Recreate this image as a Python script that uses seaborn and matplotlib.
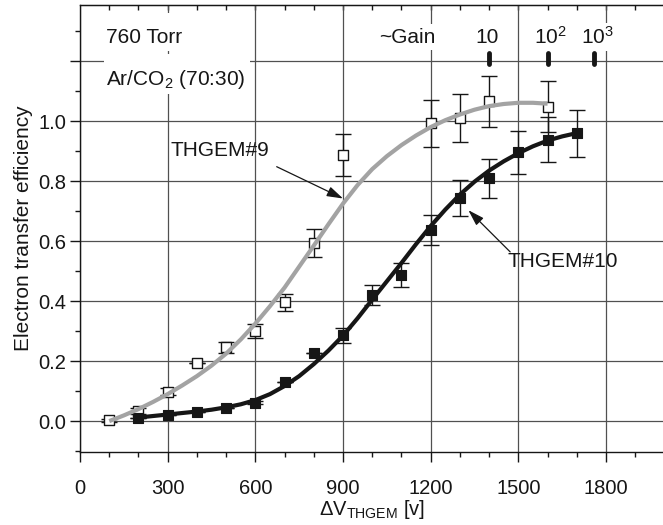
import matplotlib
matplotlib.use("Agg")
import matplotlib.pyplot as plt
from matplotlib.patches import Rectangle
import pandas as pd
import seaborn as sns

# Measured transfer efficiency, THGEM#9 (open squares)
thgem9_dv = [100, 200, 300, 400, 500, 600, 700, 800, 900, 1200, 1300, 1400, 1600]
thgem9_eff = [0.003, 0.034, 0.098, 0.194, 0.246, 0.300, 0.396, 0.594, 0.887, 0.992, 1.010, 1.066, 1.047]
thgem9_err = [0.005, 0.010, 0.011, 0.0, 0.018, 0.024, 0.029, 0.047, 0.071, 0.077, 0.080, 0.085, 0.085]

# Measured transfer efficiency, THGEM#10 (filled squares)
thgem10_dv = [200, 300, 400, 500, 600, 700, 800, 900, 1000, 1100, 1200, 1300, 1400, 1500, 1600, 1700]
thgem10_eff = [0.012, 0.022, 0.031, 0.043, 0.061, 0.129, 0.227, 0.287, 0.420, 0.487, 0.638, 0.743, 0.809, 0.896, 0.937, 0.959]
thgem10_err = [0.0, 0.0, 0.0, 0.0, 0.005, 0.0, 0.0, 0.025, 0.033, 0.039, 0.050, 0.059, 0.065, 0.072, 0.075, 0.078]

# Fitted curves, sampled every 50 V
fit9_dv = [100, 150, 200, 250, 300, 350, 400, 450, 500, 550, 600, 650, 700, 750, 800,
           850, 900, 950, 1000, 1050, 1100, 1150, 1200, 1250, 1300, 1350, 1400, 1450,
           1500, 1550, 1600]
fit9_eff = [0.000, 0.019, 0.040, 0.064, 0.090, 0.119, 0.150, 0.185, 0.225, 0.272,
            0.325, 0.383, 0.445, 0.515, 0.585, 0.656, 0.725, 0.787, 0.840, 0.883,
            0.920, 0.952, 0.980, 1.003, 1.022, 1.038, 1.050, 1.057, 1.061, 1.061, 1.058]
fit10_dv = [200, 250, 300, 350, 400, 450, 500, 550, 600, 650, 700, 750, 800, 850, 900,
            950, 1000, 1050, 1100, 1150, 1200, 1250, 1300, 1350, 1400, 1450, 1500,
            1550, 1600, 1650, 1700]
fit10_eff = [0.012, 0.017, 0.022, 0.027, 0.032, 0.038, 0.046, 0.056, 0.070, 0.090,
             0.117, 0.150, 0.190, 0.235, 0.285, 0.343, 0.405, 0.466, 0.527, 0.590,
             0.650, 0.705, 0.755, 0.798, 0.835, 0.866, 0.893, 0.916, 0.935, 0.949, 0.960]

# Approximate gain scale
gain_dv = [1400, 1600, 1760]
gain_labels = ["10", "10$^2$", "10$^3$"]

x_major = [0, 300, 600, 900, 1200, 1500, 1800]
x_minor = [100, 200, 400, 500, 700, 800, 1000, 1100, 1300, 1400, 1600, 1700, 1900]
x_top = [100, 200, 300, 400, 500, 600, 700, 800, 900, 1000, 1100, 1200, 1300,
         1400, 1500, 1600, 1700, 1800, 1900]
y_major = [0.0, 0.2, 0.4, 0.6, 0.8, 1.0, 1.2]
y_major_labels = ["0.0", "0.2", "0.4", "0.6", "0.8", "1.0", ""]
y_minor = [-0.1, 0.1, 0.3, 0.5, 0.7, 0.9, 1.1, 1.3]

sns.set_style("ticks")
plt.rcParams["font.family"] = ["Liberation Sans", "DejaVu Sans"]
plt.rcParams["mathtext.fontset"] = "custom"
plt.rcParams["mathtext.rm"] = "Liberation Sans"
plt.rcParams["mathtext.it"] = "Liberation Sans:italic"
plt.rcParams["mathtext.default"] = "regular"
plt.rcParams["font.size"] = 15

BLACK = "#161616"
GREY = "#a3a3a3"

fig = plt.figure(figsize=(6.63, 5.25), dpi=100)
ax = fig.add_axes([0.1207, 0.1396, 0.8793, 0.8509])

df9 = pd.DataFrame({"dv": thgem9_dv, "eff": thgem9_eff})
df10 = pd.DataFrame({"dv": thgem10_dv, "eff": thgem10_eff})
fit9 = pd.DataFrame({"dv": fit9_dv, "eff": fit9_eff})
fit10 = pd.DataFrame({"dv": fit10_dv, "eff": fit10_eff})

# error bars
ax.errorbar(thgem9_dv, thgem9_eff, yerr=thgem9_err, fmt="none", ecolor=BLACK,
            elinewidth=1.0, capsize=6, capthick=1.0, zorder=3)
ax.errorbar(thgem10_dv, thgem10_eff, yerr=thgem10_err, fmt="none", ecolor=BLACK,
            elinewidth=1.0, capsize=6, capthick=1.0, zorder=3)

# markers
sns.scatterplot(data=df9, x="dv", y="eff", marker="s", s=55, color="white",
                edgecolor=BLACK, linewidth=1.0, ax=ax, zorder=4)
sns.scatterplot(data=df10, x="dv", y="eff", marker="s", s=60, color=BLACK,
                edgecolor=BLACK, linewidth=0.8, ax=ax, zorder=4)

# fitted curves
sns.lineplot(data=fit9, x="dv", y="eff", color=GREY, lw=3.0, ax=ax, zorder=5,
             solid_capstyle="butt", solid_joinstyle="round")
sns.lineplot(data=fit10, x="dv", y="eff", color=BLACK, lw=3.0, ax=ax, zorder=5,
             solid_capstyle="butt", solid_joinstyle="round")

ax.set_xlim(0, 1995)
ax.set_ylim(-0.102, 1.387)

ax.set_xticks(x_major)
ax.set_xticks(x_minor, minor=True)
ax.set_yticks(y_major)
ax.set_yticklabels(y_major_labels)
ax.set_yticks(y_minor, minor=True)
ax.tick_params(axis="both", which="major", direction="out", length=7, width=1.0,
               color=BLACK, labelsize=14.5, labelcolor=BLACK)
ax.tick_params(axis="both", which="minor", direction="out", length=3.5, width=1.0,
               color=BLACK)
ax.tick_params(axis="y", which="major", pad=3)
ax.tick_params(axis="x", which="major", pad=13)

top = ax.secondary_xaxis("top")
top.set_xticks(x_top)
top.set_xticklabels([])
top.tick_params(direction="in", length=3.5, width=1.0, color=BLACK)

ax.grid(True, which="major", color="#505050", lw=0.9)
ax.set_axisbelow(True)

for side in ["left", "bottom", "top"]:
    ax.spines[side].set_color(BLACK)
    ax.spines[side].set_linewidth(1.0)
ax.spines["right"].set_visible(False)
top.spines["top"].set_color(BLACK)

ax.set_xlabel("ΔV$_{THGEM}$ [v]", fontsize=14.5, color=BLACK, labelpad=0)
ax.set_ylabel("Electron transfer efficiency", fontsize=15, color=BLACK, labelpad=4)

# header boxes with conditions
ax.add_patch(Rectangle((82, 1.232), 500, 0.128, facecolor="white",
                       edgecolor="none", zorder=1))
ax.add_patch(Rectangle((82, 1.090), 500, 0.132, facecolor="white",
                       edgecolor="none", zorder=1))
ax.text(88, 1.278, "760 Torr", ha="left", va="center", fontsize=15, color=BLACK, zorder=6)
ax.text(88, 1.137, "Ar/CO$_2$ (70:30)", ha="left", va="center", fontsize=15,
        color=BLACK, zorder=6)

# gain scale
box = dict(boxstyle="square,pad=0.15", fc="white", ec="none")
ax.text(1121, 1.28, "~Gain", ha="center", va="center", fontsize=15, color=BLACK,
        bbox=box, zorder=6)
for v, lab in zip(gain_dv, gain_labels):
    ax.plot([v, v], [1.19, 1.228], color=BLACK, lw=3.5, solid_capstyle="round",
            zorder=6)
    ax.text(v + (10 if lab != "10" else -8), 1.28, lab, ha="center", va="center",
            fontsize=15, color=BLACK, bbox=box, zorder=6)

# curve labels
arrow = dict(arrowstyle="-|>,head_length=0.7,head_width=0.22", color=BLACK,
             lw=0.9, shrinkA=0, shrinkB=0, mutation_scale=14)
ax.text(479, 0.903, "THGEM#9", ha="center", va="center", fontsize=15, color=BLACK,
        zorder=6)
ax.annotate("", xy=(900, 0.742), xytext=(673, 0.848), arrowprops=arrow, zorder=6)
ax.text(1653, 0.531, "THGEM#10", ha="center", va="center", fontsize=15, color=BLACK,
        zorder=6)
ax.annotate("", xy=(1329, 0.703), xytext=(1472, 0.564), arrowprops=arrow, zorder=6)

fig.savefig("out.png", dpi=100)
